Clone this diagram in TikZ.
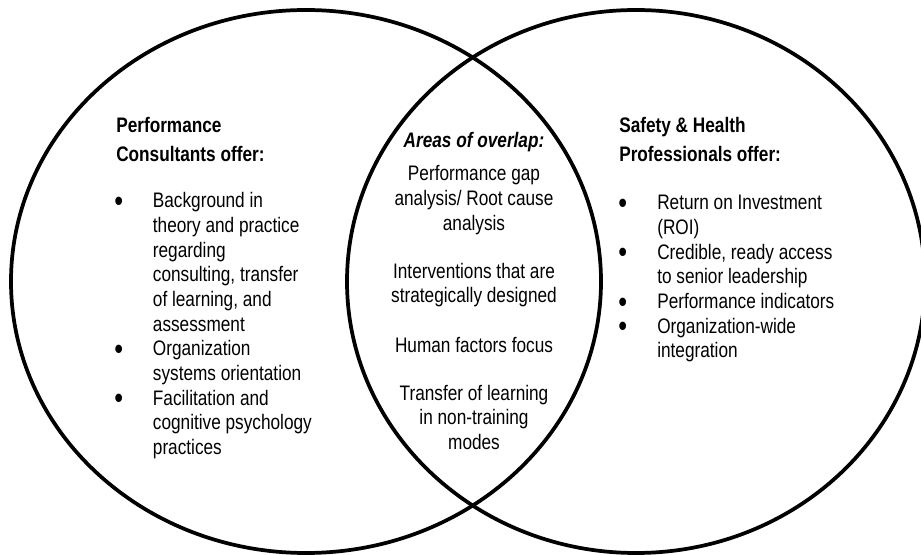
\documentclass[tikz,border=0pt]{standalone}
\usepackage{fontspec}
\setmainfont{Liberation Sans}[FakeStretch=0.82]
\usetikzlibrary{positioning}

% one unit is one pixel of the final image, y grows downwards
\tikzset{
  ring/.style={draw, line width=2.8pt},
  txt/.style={inner sep=0pt, font=\fontsize{15.75}{18.5}\selectfont},
  head/.style={txt, anchor=base west, font=\fontsize{15.75}{18.5}\selectfont\bfseries},
  list/.style={txt, anchor=base west}
}
% a heavier bullet than the font's own
\newcommand{\bul}{\smash{\raisebox{-2.6pt}{\fontsize{23}{0}\selectfont\textbullet}}}

\begin{document}
\begin{tikzpicture}[x=0.75pt, y=-0.75pt]
  \useasboundingbox (0,0) rectangle (921,555);
  \clip (0,0) rectangle (921,555);

  % the two sets
  \draw [ring] (306,281.5) ellipse [x radius=295, y radius=271.5];
  \draw [ring] (636,281.5) ellipse [x radius=289, y radius=271.5];

  % left set
  \node [head] (pc) at (116,133) {\begin{tabular}[t]{@{}l@{}}
      Performance\\[3pt]
      Consultants offer:
    \end{tabular}};
  \node [list] (pclist) at (114,208) {\begin{tabular}[t]{@{}p{29pt}@{}l@{}}
      \bul & Background in\\
           & theory and practice\\
           & regarding\\
           & consulting, transfer\\
           & of learning, and\\
           & assessment\\
      \bul & Organization\\
           & systems orientation\\
      \bul & Facilitation and\\
           & cognitive psychology\\
           & practices
    \end{tabular}};

  % overlap
  \node [txt, anchor=base] (ov) at (474,148) {\begin{tabular}[t]{@{}c@{}}
      {\bfseries\itshape Areas of overlap:}\\[6.2pt]
      Performance gap\\
      analysis/ Root cause\\
      analysis\\[17.5pt]
      Interventions that are\\
      strategically designed\\[18.5pt]
      Human factors focus\\[17.5pt]
      Transfer of learning\\
      in non-training\\
      modes
    \end{tabular}};

  % right set
  \node [head] (sh) at (619,133) {\begin{tabular}[t]{@{}l@{}}
      Safety \& Health\\[3pt]
      Professionals offer:
    \end{tabular}};
  \node [list] (shlist) at (618,210) {\begin{tabular}[t]{@{}p{29.25pt}@{}l@{}}
      \bul & Return on Investment\\
           & (ROI)\\
      \bul & Credible, ready access\\
           & to senior leadership\\
      \bul & Performance indicators\\
      \bul & Organization-wide\\
           & integration
    \end{tabular}};
\end{tikzpicture}
\end{document}
